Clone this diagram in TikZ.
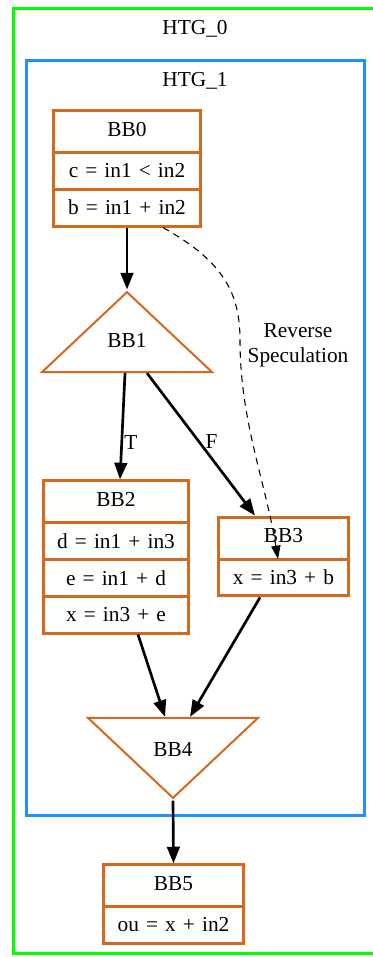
\documentclass[tikz,border=0pt]{standalone}
\usepackage{fontspec}
\setmainfont{Liberation Serif}
\usepackage{tikz}
\usetikzlibrary{
  arrows.meta,
  calc,
  shapes.geometric,
  shapes.multipart
}
\definecolor{htgzero}{RGB}{0, 255, 0}
\definecolor{htgone}{RGB}{30, 144, 255}
\definecolor{bbline}{RGB}{210, 105, 30}
\tikzset{
  % Klaster ramkalari
  htgbox/.style   = {line width=2.25pt},
  htglab/.style   = {font=\fontsize{16}{19}\selectfont, anchor=base},
  % Bloklar
  bbrec/.style    = {rectangle split, rectangle split draw splits,
                     draw=bbline, line width=2.25pt, inner xsep=0pt,
                     inner ysep=7.1pt, text height=11pt, text depth=4pt,
                     align=center, font=\fontsize{16}{19}\selectfont},
  bbtri/.style    = {isosceles triangle, isosceles triangle stretches,
                     draw=bbline, line width=1.5pt, inner sep=0pt,
                     minimum width=127.5pt, minimum height=60pt,
                     font=\fontsize{16}{19}\selectfont},
  % Qirralar
  flowedge/.style = {-{Triangle[length=12.5pt, width=9.5pt]}, line width=2pt},
  specedge/.style = {-{Triangle[length=10pt, width=7pt]}, line width=0.8pt,
                     dash pattern=on 5pt off 4pt},
  edgelab/.style  = {font=\fontsize{16}{19}\selectfont, inner sep=1pt},
  speclab/.style  = {font=\fontsize{16}{18.75}\selectfont, align=center},
}
\begin{document}
\begin{tikzpicture}[x=0.75pt, y=-0.75pt]
  \useasboundingbox (0,0) rectangle (373,957);
  % Klasterlar
  \draw[htgbox, draw=htgzero] (13.5,8.5) rectangle (385,953.5);
  \node[htglab] (htg0) at (195,34) {HTG\_0};
  \draw[htgbox, draw=htgone] (26.5,60.5) rectangle (364.5,815.5);
  \node[htglab] (htg1) at (195,86) {HTG\_1};
  % Bloklar
  \node[bbrec, rectangle split parts=3, text width=110pt] (bb0) at (127,168.5)
    {BB0 \nodepart{two} c = in1 < in2 \nodepart{three} b = in1 + in2};
  \node[bbtri, shape border rotate=90, anchor=apex, text height=11pt,
    text depth=6.25pt] (bb1) at (127,289.5) {BB1};
  \node[bbrec, rectangle split parts=4, text width=108.75pt] (bb2) at (116,557)
    {BB2 \nodepart{two} d = in1 + in3 \nodepart{three} e = in1 + d
     \nodepart{four} x = in3 + e};
  \node[bbrec, rectangle split parts=2, text width=97.5pt] (bb3) at (283.5,556.5)
    {BB3 \nodepart{two} x = in3 + b};
  \node[bbtri, shape border rotate=-90, anchor=apex, text height=19.2pt,
    text depth=4pt] (bb4) at (173,800.5) {BB4};
  \node[bbrec, rectangle split parts=2, text width=105pt] (bb5) at (173.5,904)
    {BB5 \nodepart{two} ou = x + in2};
  % Qirralar
  \draw[flowedge] (bb0.south) -- (bb1.apex);
  \draw[flowedge] (125,0 |- bb1.lower side) --
    node[edgelab, pos=0.65, right] {T} (120,0 |- bb2.north);
  \draw[flowedge] (147,0 |- bb1.lower side) --
    node[edgelab, pos=0.48, right=3pt] {F} (255,0 |- bb3.north);
  \draw[flowedge] (138,0 |- bb2.south) -- (165,0 |- bb4.lower side);
  \draw[flowedge] (260,0 |- bb3.south) -- (190,0 |- bb4.lower side);
  \draw[flowedge] (bb4.apex) -- (bb5.north);
  \draw[specedge] (163,0 |- bb0.south) .. controls (225,262) and (240,295)
    .. (240,340) .. controls (240,420) and (265,480)
    .. (278,0 |- bb3.text split);
  \node[speclab] (revspec) at (298,345) {Reverse\\Speculation};
\end{tikzpicture}
\end{document}
